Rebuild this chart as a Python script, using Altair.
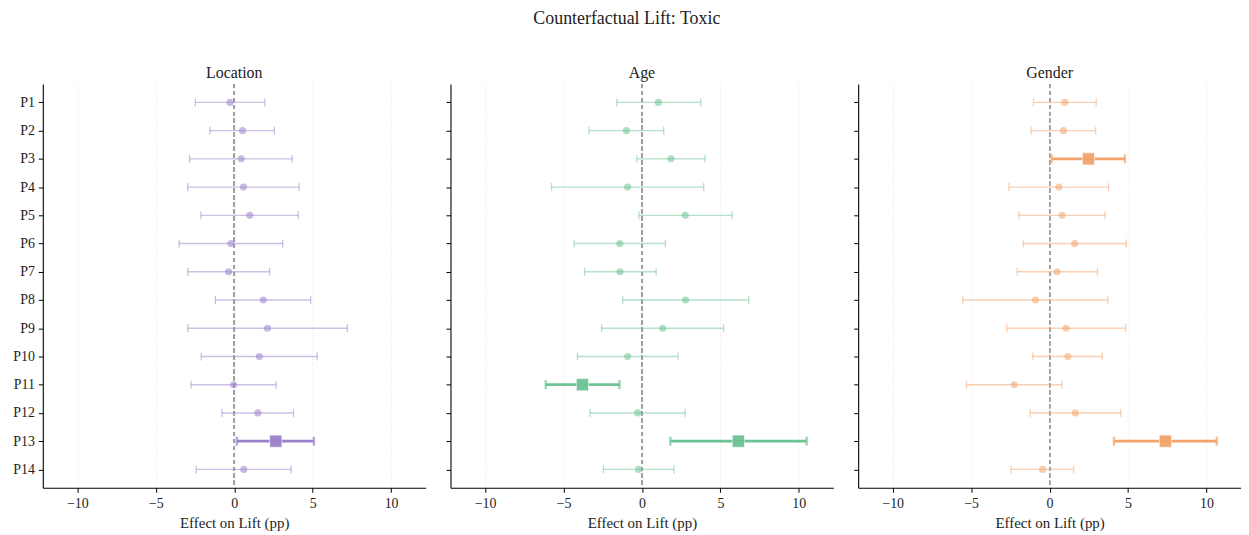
import altair as alt
import pandas as pd

params = [f"P{i}" for i in range(1, 15)]

loc_est = [-0.27, 0.53, 0.44, 0.59, 0.99, -0.21, -0.36, 1.85, 2.12, 1.60, -0.04, 1.51, 2.65, 0.61]
loc_lo = [-2.48, -1.55, -2.84, -2.96, -2.12, -3.51, -2.96, -1.20, -2.96, -2.10, -2.75, -0.78, 0.17, -2.42]
loc_hi = [1.95, 2.56, 3.70, 4.14, 4.08, 3.09, 2.25, 4.87, 7.21, 5.29, 2.67, 3.78, 5.08, 3.63]

age_est = [1.05, -0.99, 1.85, -0.91, 2.76, -1.41, -1.39, 2.78, 1.33, -0.91, -3.79, -0.27, 6.15, -0.21]
age_lo = [-1.60, -3.37, -0.32, -5.76, -0.19, -4.32, -3.65, -1.22, -2.57, -4.11, -6.13, -3.31, 1.81, -2.45]
age_hi = [3.75, 1.39, 4.02, 3.94, 5.75, 1.50, 0.91, 6.81, 5.21, 2.30, -1.43, 2.76, 10.50, 2.04]

gen_est = [0.97, 0.88, 2.48, 0.59, 0.80, 1.60, 0.48, -0.90, 1.05, 1.16, -2.25, 1.64, 7.38, -0.44]
gen_lo = [-1.03, -1.18, 0.13, -2.59, -1.96, -1.68, -2.06, -5.53, -2.73, -1.07, -5.30, -1.24, 4.10, -2.46]
gen_hi = [2.97, 2.94, 4.80, 3.76, 3.53, 4.88, 3.05, 3.72, 4.84, 3.36, 0.78, 4.54, 10.66, 1.54]

panels = ["Location", "Age", "Gender"]
colors = ["#9a82cb", "#6cc394", "#f2a46c"]
series = [(loc_est, loc_lo, loc_hi), (age_est, age_lo, age_hi), (gen_est, gen_lo, gen_hi)]

FONT = "Liberation Serif"
XDOM = [-12.2, 12.2]

charts = []
for idx, (name, col, (est, lo, hi)) in enumerate(zip(panels, colors, series)):
    df = pd.DataFrame({"param": params, "est": est, "lo": lo, "hi": hi})
    df["sig"] = (df["lo"] > 0) | (df["hi"] < 0)

    xs = alt.Scale(domain=XDOM, nice=False, zero=False)
    ys = alt.Scale(type="point", domain=params, padding=0.65)
    xax = alt.Axis(values=[-10, -5, 0, 5, 10], title="Effect on Lift (pp)",
                   labelExpr="replace(datum.label, '-', '\u2212')",
                   grid=True, gridDash=[1, 2], gridColor="#d8d8d8", gridWidth=0.7,
                   labelPadding=4, titlePadding=5)
    yax = alt.Axis(title=None, labels=(idx == 0), grid=False, labelPadding=4)

    base = alt.Chart(df)
    x_lo = alt.X("lo:Q", scale=xs, axis=xax)
    y_enc = alt.Y("param:N", scale=ys, axis=yax, sort=params)

    zero = base.mark_rule(color="#a0a0a0", strokeDash=[4, 3], strokeWidth=1.1).encode(
        x=alt.datum(0, scale=xs),
    )

    ns = base.transform_filter("!datum.sig")
    sg = base.transform_filter("datum.sig")

    ns_rule = ns.mark_rule(color=col, strokeWidth=1.4, opacity=0.5).encode(
        x=x_lo, x2="hi:Q", y=y_enc)
    ns_cap_lo = ns.mark_tick(color=col, thickness=1.3, size=8, opacity=0.5).encode(
        x=alt.X("lo:Q", scale=xs), y=y_enc)
    ns_cap_hi = ns.mark_tick(color=col, thickness=1.3, size=8, opacity=0.5).encode(
        x=alt.X("hi:Q", scale=xs), y=y_enc)
    ns_pt = ns.mark_point(filled=True, shape="circle", size=52, color=col, opacity=0.55).encode(
        x=alt.X("est:Q", scale=xs), y=y_enc)

    sg_rule = sg.mark_rule(color=col, strokeWidth=2.8).encode(
        x=x_lo, x2="hi:Q", y=y_enc)
    sg_cap_lo = sg.mark_tick(color=col, thickness=2.4, size=9).encode(
        x=alt.X("lo:Q", scale=xs), y=y_enc)
    sg_cap_hi = sg.mark_tick(color=col, thickness=2.4, size=9).encode(
        x=alt.X("hi:Q", scale=xs), y=y_enc)
    sg_pt = sg.mark_point(filled=True, shape="square", size=150, color=col, opacity=0.95,
                          stroke="white", strokeWidth=0.6).encode(
        x=alt.X("est:Q", scale=xs), y=y_enc)

    layer = alt.layer(zero, ns_rule, ns_cap_lo, ns_cap_hi, ns_pt,
                      sg_rule, sg_cap_lo, sg_cap_hi, sg_pt).properties(
        width=385, height=406,
        title=alt.TitleParams(name, fontSize=16, font=FONT, fontWeight="normal", offset=3, color="#222222"),
    )
    charts.append(layer)

chart = alt.hconcat(*charts, spacing=20).properties(
    title=alt.TitleParams("Counterfactual Lift: Toxic", fontSize=18, font=FONT,
                          fontWeight="normal", anchor="middle", offset=29, dy=-8, color="#222222"),
    padding={"left": 4, "top": 0, "right": 0, "bottom": 0},
).configure_view(stroke=None).configure_axis(
    labelFont=FONT, titleFont=FONT, labelFontSize=14, titleFontSize=15,
    titleFontWeight="normal", labelColor="#222222", titleColor="#222222",
    domainColor="#000000", tickColor="#000000", domainWidth=1.1, tickSize=4.5,
).configure_axisY(domain=True)

chart.save("out.html", embed_options={"renderer": "svg", "actions": False})
